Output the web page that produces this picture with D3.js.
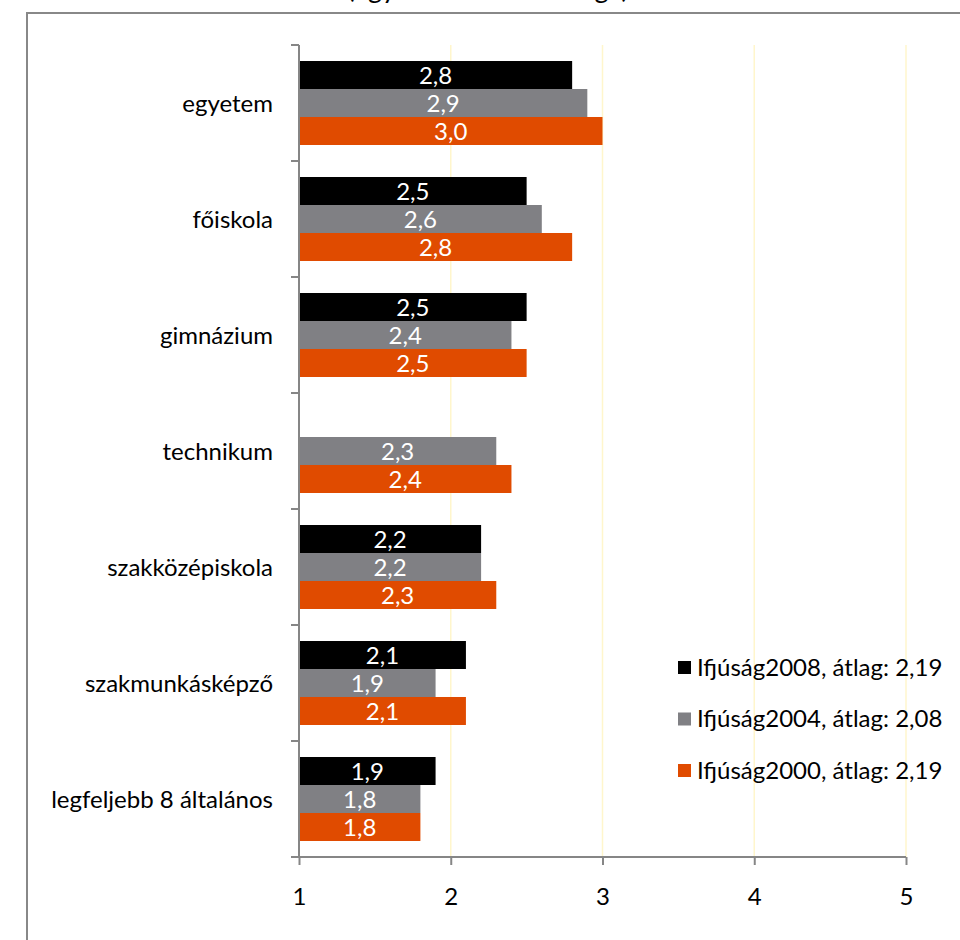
<!DOCTYPE html>
<html><head><meta charset="utf-8">
<script src="https://cdn.jsdelivr.net/npm/d3@7"></script>
<style>body{margin:0;background:#fff}svg{display:block}</style>
</head><body>
<script>
const categories = ["egyetem","főiskola","gimnázium","technikum","szakközépiskola","szakmunkásképző","legfeljebb 8 általános"];
const seriesNames = ["Ifjúság2008, átlag: 2,19","Ifjúság2004, átlag: 2,08","Ifjúság2000, átlag: 2,19"];
const values2008 = [2.8, 2.5, 2.5, null, 2.2, 2.1, 1.9];
const values2004 = [2.9, 2.6, 2.4, 2.3, 2.2, 1.9, 1.8];
const values2000 = [3.0, 2.8, 2.5, 2.4, 2.3, 2.1, 1.8];
const colors = ["#000000", "#808084", "#e04b00"];
const xTicks = [1,2,3,4,5];
const titleText = "(egy ötfokú skála átlaga)";

const W = 960, H = 940;
const font = "Lato, 'Open Sans', sans-serif";
const svg = d3.select("body").append("svg").attr("width", W).attr("height", H);

// title (cut off at top, as in the reference)
svg.append("text").attr("x", 488).attr("y", -2).attr("text-anchor","middle")
  .attr("font-family", font).attr("font-size", 27).attr("fill","#000").text(titleText);

// outer frame
svg.append("rect").attr("x", 27).attr("y", 13).attr("width", 1000).attr("height", 1000)
  .attr("fill","none").attr("stroke","#888").attr("stroke-width",2);

const x = d3.scaleLinear().domain([1,5]).range([299, 906]);
const y = d3.scaleBand().domain(categories).range([45, 857]).paddingInner(0.276).paddingOuter(0.138);
const series = [values2008, values2004, values2000];
const ySub = d3.scaleBand().domain(d3.range(series.length)).range([0, y.bandwidth()]);

// gridlines
svg.append("g").selectAll("line").data(xTicks.slice(1)).join("line")
  .attr("x1", d=>x(d)).attr("x2", d=>x(d)).attr("y1",45).attr("y2",857)
  .attr("stroke","#fff6cc").attr("stroke-width",1.5);

// bars
series.forEach((vals, si) => {
  const g = svg.append("g");
  const data = categories.map((c,i)=>({c, v: vals[i]})).filter(d=>d.v!=null);
  g.selectAll("rect").data(data).join("rect")
    .attr("x", x(1)).attr("y", d=>y(d.c)+ySub(si))
    .attr("width", d=>x(d.v)-x(1)).attr("height", ySub.bandwidth())
    .attr("fill", colors[si]);
  g.selectAll("text").data(data).join("text")
    .attr("x", d=>(x(1)+x(d.v))/2).attr("y", d=>y(d.c)+ySub(si)+ySub.bandwidth()/2)
    .attr("dy","0.36em").attr("text-anchor","middle")
    .attr("font-family", font).attr("font-size", 24).attr("fill","#fff")
    .text(d=>d3.format(".1f")(d.v).replace(".", ","));
});

// x axis
const xAxis = svg.append("g").attr("transform","translate(0,857)")
  .call(d3.axisBottom(x).tickValues(xTicks).tickSize(8).tickPadding(23).tickFormat(d=>d));
xAxis.select(".domain").attr("stroke","#868686").attr("stroke-width",2).attr("d", `M${x(1)-8},0H${x(5)}`);
xAxis.selectAll(".tick line").attr("stroke","#868686").attr("stroke-width",2);
xAxis.selectAll(".tick text").attr("font-family", font).attr("font-size", 24).attr("fill","#000");

// y axis
const yStep = y.step();
const yBounds = d3.range(categories.length+1).map(i => 45 + i*yStep);
const yAx = svg.append("g");
yAx.append("line").attr("x1",299).attr("x2",299).attr("y1",45).attr("y2",857)
  .attr("stroke","#868686").attr("stroke-width",2);
yAx.selectAll("line.t").data(yBounds).join("line").attr("class","t")
  .attr("x1",291).attr("x2",299).attr("y1",d=>d).attr("y2",d=>d)
  .attr("stroke","#868686").attr("stroke-width",2);
yAx.selectAll("text").data(categories).join("text")
  .attr("x", 273).attr("y", d=>y(d)+y.bandwidth()/2).attr("dy","0.36em")
  .attr("text-anchor","end").attr("font-family", font).attr("font-size", 24).attr("fill","#000")
  .text(d=>d);

// legend
const leg = svg.append("g");
seriesNames.forEach((n,i)=>{
  const cy = 667 + i*51.5;
  leg.append("rect").attr("x",678).attr("y",cy-6).attr("width",13).attr("height",13).attr("fill",colors[i]);
  leg.append("text").attr("x",697).attr("y",cy).attr("dy","0.36em")
    .attr("font-family", font).attr("font-size", 24).attr("fill","#000").text(n);
});
</script>
</body></html>
